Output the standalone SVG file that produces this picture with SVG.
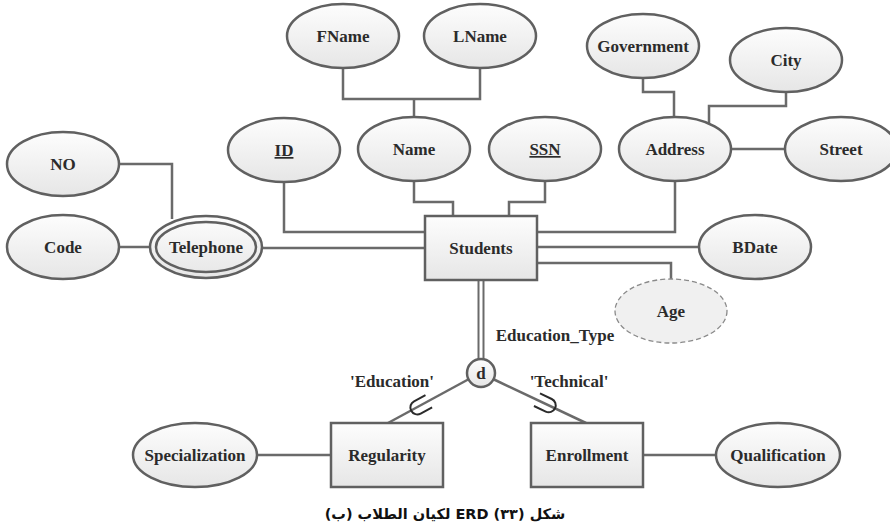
<svg xmlns="http://www.w3.org/2000/svg" width="890" height="528" viewBox="0 0 890 528">
<defs>
<linearGradient id="g" x1="0" y1="0" x2="0" y2="1">
<stop offset="0" stop-color="#fdfdfd"/>
<stop offset="1" stop-color="#e6e6e6"/>
</linearGradient>
<style>
.e{fill:url(#g);stroke:#606060;stroke-width:2.5}
.r{fill:url(#g);stroke:#606060;stroke-width:2.5}
.ln{fill:none;stroke:#6a6a6a;stroke-width:2.5}
.t{font-family:"Liberation Serif","Times New Roman",serif;font-weight:bold;font-size:17px;fill:#2b2b2b;text-anchor:middle}
.u{text-decoration:underline}
.cup{fill:none;stroke:#2b2b2b;stroke-width:2}
</style>
</defs>
<rect width="890" height="528" fill="#ffffff"/>
<g id="connectors">
<polyline class="ln" points="343,68 343,99 480,99 480,68"/>
<line class="ln" x1="414" y1="99" x2="414" y2="117"/>
<polyline class="ln" points="414,181 414,202 453,202 453,216"/>
<polyline class="ln" points="545,181 545,202 509,202 509,216"/>
<polyline class="ln" points="284,182 284,232 425,232"/>
<line class="ln" x1="262" y1="248" x2="425" y2="248"/>
<polyline class="ln" points="119,164 172,164 172,219"/>
<line class="ln" x1="119" y1="247" x2="151" y2="247"/>
<polyline class="ln" points="537,232 675,232 675,181"/>
<line class="ln" x1="537" y1="247" x2="699" y2="247"/>
<polyline class="ln" points="537,263 671,263 671,279"/>
<polyline class="ln" points="643,78 643,92 674,92 674,117"/>
<polyline class="ln" points="786,92 786,106 709,106 709,124"/>
<line class="ln" x1="731" y1="149" x2="785" y2="149"/>
<line x1="481" y1="280" x2="481" y2="359" stroke="#6a6a6a" stroke-width="7"/>
<line x1="481" y1="280" x2="481" y2="360" stroke="#ffffff" stroke-width="3"/>
<line class="ln" x1="469" y1="379" x2="388" y2="423"/>
<line class="ln" x1="493" y1="379" x2="586" y2="423"/>
<line class="ln" x1="258" y1="455" x2="331" y2="455"/>
<line class="ln" x1="643" y1="455" x2="717" y2="455"/>
<path class="cup" transform="translate(420,406) rotate(151.7)" d="M-10,-7 L3,-7 A7,7 0 0 1 3,7 L-10,7"/>
<path class="cup" transform="translate(546,404) rotate(25.5)" d="M-10,-7 L3,-7 A7,7 0 0 1 3,7 L-10,7"/>
</g>
<g id="FName"><ellipse class="e" cx="343" cy="36" rx="56" ry="32"/><text class="t" x="343" y="42">FName</text></g>
<g id="LName"><ellipse class="e" cx="480" cy="36" rx="56" ry="32"/><text class="t" x="480" y="42">LName</text></g>
<g id="Name"><ellipse class="e" cx="414" cy="149" rx="56" ry="32"/><text class="t" x="414" y="155">Name</text></g>
<g id="ID"><ellipse class="e" cx="284" cy="150" rx="56" ry="32"/><text class="t u" x="284" y="156">ID</text></g>
<g id="SSN"><ellipse class="e" cx="545" cy="149" rx="56" ry="32"/><text class="t u" x="545" y="155">SSN</text></g>
<g id="Government"><ellipse class="e" cx="643" cy="46" rx="56" ry="32"/><text class="t" x="643" y="52">Government</text></g>
<g id="City"><ellipse class="e" cx="786" cy="60" rx="56" ry="32"/><text class="t" x="786" y="66">City</text></g>
<g id="Address"><ellipse class="e" cx="675" cy="149" rx="56" ry="32"/><text class="t" x="675" y="155">Address</text></g>
<g id="Street"><ellipse class="e" cx="841" cy="149" rx="56" ry="32"/><text class="t" x="841" y="155">Street</text></g>
<g id="NO"><ellipse class="e" cx="63" cy="164" rx="56" ry="32"/><text class="t" x="63" y="170">NO</text></g>
<g id="Code"><ellipse class="e" cx="63" cy="247" rx="56" ry="32"/><text class="t" x="63" y="253">Code</text></g>
<g id="Telephone"><ellipse class="e" cx="206" cy="247" rx="56" ry="31"/><ellipse fill="none" stroke="#606060" stroke-width="2.5" cx="206" cy="247" rx="50" ry="25"/><text class="t" x="206" y="253">Telephone</text></g>
<g id="Students"><rect class="r" x="425" y="216" width="112" height="64"/><text class="t" x="481" y="254">Students</text></g>
<g id="BDate"><ellipse class="e" cx="755" cy="247" rx="56" ry="32"/><text class="t" x="755" y="253">BDate</text></g>
<g id="Age"><ellipse cx="671" cy="311" rx="56" ry="32" fill="#f0f0f0" stroke="#8a8a8a" stroke-width="1.3" stroke-dasharray="5,3"/><text class="t" x="671" y="317">Age</text></g>
<g id="EduType"><text class="t" x="555" y="341">Education_Type</text></g>
<g id="d"><circle class="e" cx="481" cy="373" r="14"/><text class="t" x="481" y="379">d</text></g>
<text class="t" x="392" y="387">'Education'</text>
<text class="t" x="569" y="387">'Technical'</text>
<g id="Regularity"><rect class="r" x="331" y="423" width="112" height="64"/><text class="t" x="387" y="461">Regularity</text></g>
<g id="Enrollment"><rect class="r" x="531" y="423" width="112" height="64"/><text class="t" x="587" y="461">Enrollment</text></g>
<g id="Specialization"><ellipse class="e" cx="195" cy="455" rx="62" ry="32"/><text class="t" x="195" y="461">Specialization</text></g>
<g id="Qualification"><ellipse class="e" cx="778" cy="455" rx="62" ry="32"/><text class="t" x="778" y="461">Qualification</text></g>
<text x="445" y="519" direction="rtl" text-anchor="middle" font-family="DejaVu Sans, sans-serif" font-weight="bold" font-size="14.5" fill="#111">شكل (٣٣) ERD لكيان الطلاب (ب)</text>
</svg>
